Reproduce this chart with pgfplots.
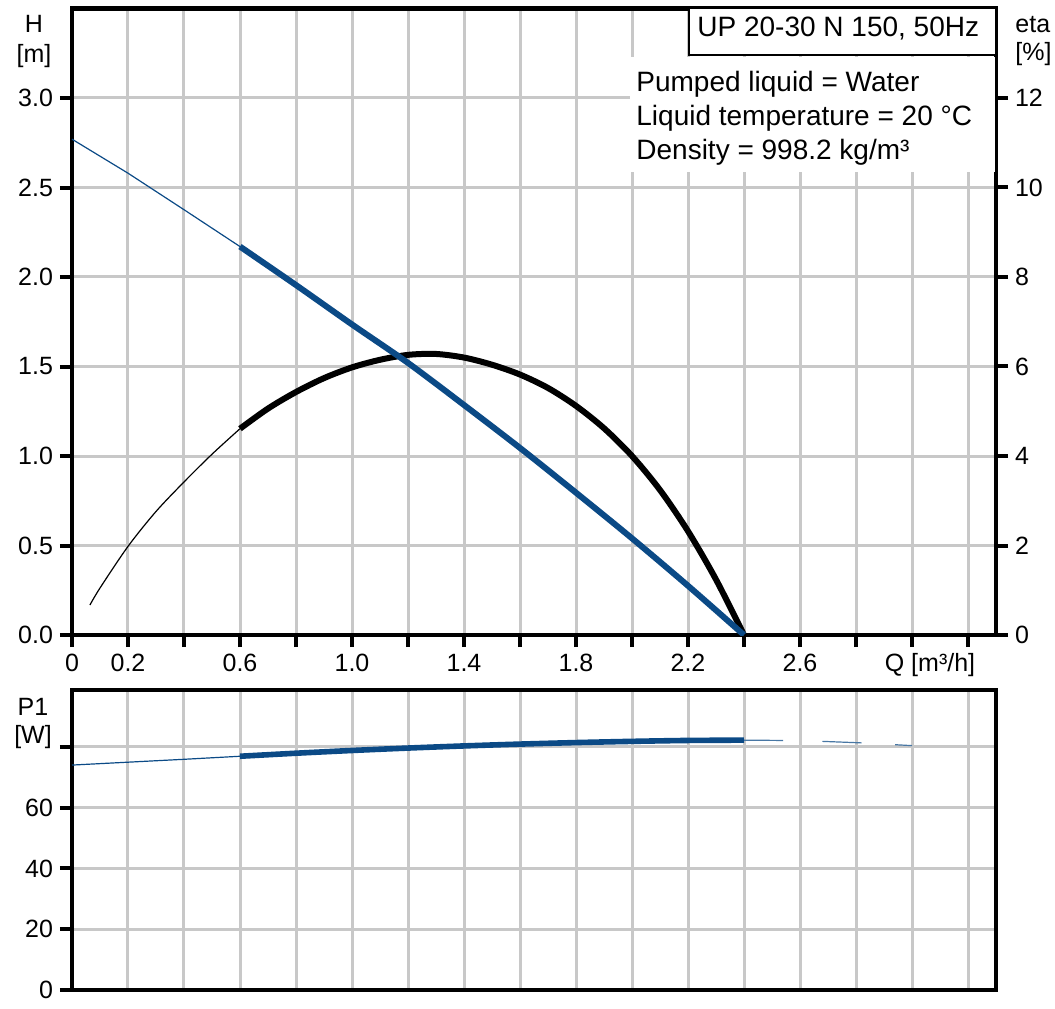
\documentclass[border=0pt]{standalone}
\usepackage{fontspec}
\setmainfont{Liberation Sans}
\usepackage{pgfplots}
\pgfplotsset{compat=1.18}
\definecolor{pumpblue}{HTML}{0B4A86}
\definecolor{gridgrey}{HTML}{C8C8C8}

% shared frame for the three axes (0.5pt per pixel of the original)
\pgfplotsset{
  pumpframe/.style={
    anchor=south west, scale only axis, width=462pt,
    xmin=0, xmax=3.3,
    axis line style={line width=2pt},
    tick style={line width=2pt, black},
    major tick length=6pt, tick align=outside,
    tick label style={font=\fontsize{12.5}{15}\selectfont},
    major grid style={gridgrey, line width=1.5pt},
  },
  qticks/.style={xtick={0,0.2,0.4,0.6,0.8,1.0,1.2,1.4,1.6,1.8,2.0,2.2,2.4,2.6,2.8,3.0,3.2}},
}

\begin{document}
\begin{tikzpicture}
\useasboundingbox (0,0) rectangle (527.5pt,504pt);

% eta axis: grid, Q ticks, right scale, efficiency curve
\begin{axis}[pumpframe, at={(36pt,186.5pt)}, height=313.25pt,
  ymin=0, ymax=14, qticks,
  xticklabels={0,0.2,,0.6,,1.0,,1.4,,1.8,,2.2,,2.6,,,},
  xtick pos=bottom,
  ytick={0,2,4,6,8,10,12}, yticklabels={0,2,4,6,8,10,12},
  ytick pos=right, yticklabel pos=right,
  grid=major]
\addplot[black, line width=0.6pt, smooth] coordinates {
 (0.064,0.67) (0.1,1.05) (0.2,1.98) (0.3,2.76) (0.4,3.42) (0.5,4.04) (0.6,4.61)};
\addplot[black, line width=3pt, smooth] coordinates {
 (0.6,4.61) (0.7,5.06) (0.8,5.43) (0.9,5.74) (1.0,5.98) (1.1,6.15) (1.2,6.26)
 (1.3,6.28) (1.4,6.20) (1.5,6.04) (1.6,5.82) (1.7,5.52) (1.8,5.12) (1.9,4.62)
 (2.0,4.00) (2.1,3.24) (2.2,2.32) (2.3,1.24) (2.4,0.0)};
\end{axis}

% H axis: left scale and head curve
\begin{axis}[pumpframe, at={(36pt,186.5pt)}, height=313.25pt,
  ymin=0, ymax=3.5, xtick=\empty,
  ytick={0,0.5,1,1.5,2,2.5,3}, yticklabels={0.0,0.5,1.0,1.5,2.0,2.5,3.0},
  ytick pos=left]
\addplot[pumpblue, line width=0.6pt] coordinates {
 (0,2.77) (0.2,2.58) (0.4,2.376) (0.6,2.17)};
\addplot[pumpblue, line width=3pt, smooth] coordinates {
 (0.6,2.17) (0.8,1.955) (1.0,1.735) (1.2,1.52) (1.4,1.285) (1.6,1.045)
 (1.8,0.795) (2.0,0.54) (2.2,0.275) (2.4,0.0)};
\end{axis}

% P1 axis
\begin{axis}[pumpframe, at={(36pt,9pt)}, height=150pt,
  ymin=0, ymax=98.7, qticks, xticklabels={}, xtick style={draw=none},
  ytick={0,20,40,60,80}, yticklabels={0,20,40,60,{}},
  ytick pos=left, grid=major]
\addplot[pumpblue, line width=0.6pt] coordinates {
 (0,74.0) (0.2,74.95) (0.4,75.9) (0.6,76.9)};
\addplot[pumpblue, line width=2.8pt, smooth] coordinates {
 (0.6,76.9) (0.8,77.9) (1.0,78.8) (1.2,79.6) (1.4,80.3) (1.6,80.9)
 (1.8,81.4) (2.0,81.8) (2.2,82.1) (2.4,82.2)};
\addplot[pumpblue!75, line width=0.6pt] coordinates {(2.40,82.2) (2.54,82.1)};
\addplot[pumpblue!75, line width=0.6pt] coordinates {(2.68,81.8) (2.82,81.3)};
\addplot[pumpblue!75, line width=0.6pt] coordinates {(2.94,80.7) (3.00,80.4)};
\end{axis}

% axis titles
\begin{scope}[every node/.style={font=\fontsize{12.5}{15}\selectfont, inner sep=0pt}]
\node[anchor=base] at (17pt,487.5pt) {H};
\node[anchor=base] at (17pt,472.5pt) {[m]};
\node[anchor=base west] at (507.5pt,487.5pt) {eta};
\node[anchor=base west] at (507.5pt,473.5pt) {[\%]};
\node[anchor=base] at (16.5pt,146.5pt) {P1};
\node[anchor=base] at (16.5pt,132.5pt) {[W]};
\node[anchor=base] at (465pt,168pt) {Q [m³/h]};
\end{scope}

% boxes
\fill[white] (315pt,418pt) rectangle (497.3pt,475.5pt);
\draw[fill=white, line width=0.75pt] (344.5pt,476.5pt) rectangle (498pt,500pt);
\begin{scope}[every node/.style={font=\fontsize{14}{17}\selectfont, inner sep=0pt, anchor=base west}]
\node at (348.5pt,485.5pt) {UP 20-30 N 150, 50Hz};
\node at (318pt,458pt) {Pumped liquid = Water};
\node at (318pt,441pt) {Liquid temperature = 20 °C};
\node at (318pt,424pt) {Density = 998.2 kg/m³};
\end{scope}
\end{tikzpicture}
\end{document}
